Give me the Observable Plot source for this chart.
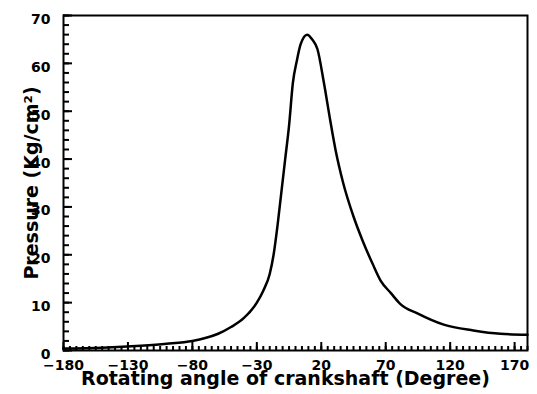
<!DOCTYPE html>
<html>
<head>
<meta charset="utf-8">
<script src="https://cdn.jsdelivr.net/npm/d3@7"></script>
<script src="https://cdn.jsdelivr.net/npm/@observablehq/plot@0.6"></script>
<style>
  html, body { margin: 0; padding: 0; background: #fff; }
</style>
</head>
<body>
<div id="chart"></div>
<script>
const angles = [-180, -150, -120, -100, -80, -70, -60, -50, -40, -30, -25, -20, -17, -14, -11, -8, -5, -2, 1, 4, 9, 13, 17, 22, 27, 31, 37, 45, 52, 60, 66, 74, 81, 95, 115, 138, 159, 180];
const pressures = [0.4, 0.6, 1.0, 1.4, 2.0, 2.6, 3.5, 4.9, 6.8, 10.0, 12.5, 16, 20, 26, 33, 40, 47, 56, 60.5, 64, 66, 65, 63, 56, 48, 42, 35, 28, 23, 18, 14.6, 12, 9.8, 7.7, 5.4, 4.2, 3.5, 3.3];
const xTickLabels = [-180, -130, -80, -30, 20, 70, 120, 170];
const yTickLabels = [0, 10, 20, 30, 40, 50, 60, 70];
const xMinorTicks = d3.range(-180, 181, 5);
const yMinorTicks = d3.range(0, 71, 2);
const xTitle = "Rotating angle of crankshaft (Degree)";
const yTitle = "Pressure (Kg/cm²)";

const data = angles.map((a, i) => ({angle: a, pressure: pressures[i]}));
const font = "'DejaVu Sans', 'Liberation Sans', sans-serif";

const W = 537, H = 394, ML = 63, MR = 10, MT = 15, MB = 44;
const frameW = W - ML - MR, frameH = H - MT - MB;

const chart = Plot.plot({
  width: W,
  height: H,
  marginLeft: ML,
  marginRight: MR,
  marginTop: MT,
  marginBottom: MB,
  style: {fontFamily: font, fontWeight: "bold", fontSize: "14px", color: "#000", background: "#fff"},
  x: {domain: [-180, 180]},
  y: {domain: [0, 70]},
  marks: [
    Plot.frame({stroke: "#000", strokeWidth: 2, fill: "none"}),
    // inward ticks on the bottom axis
    Plot.tickX(xMinorTicks, {x: d => d, stroke: "#000", strokeWidth: 2, insetTop: frameH - 4}),
    Plot.tickX(xTickLabels, {x: d => d, stroke: "#000", strokeWidth: 2, insetTop: frameH - 8}),
    Plot.axisX({ticks: xTickLabels, tickSize: 0, tickPadding: 10, label: null, fontSize: 14}),
    // inward ticks on the left axis
    Plot.tickY(yMinorTicks, {y: d => d, stroke: "#000", strokeWidth: 2, insetRight: frameW - 6}),
    Plot.tickY(yTickLabels, {y: d => d, stroke: "#000", strokeWidth: 2, insetRight: frameW - 9}),
    Plot.axisY({ticks: yTickLabels, tickSize: 0, tickPadding: 13, dy: 4, label: null, fontSize: 14}),
    Plot.line(data, {x: "angle", y: "pressure", stroke: "#000", strokeWidth: 2.5, curve: "monotone-x"}),
    Plot.text([xTitle], {frameAnchor: "bottom", dy: 34, dx: -10, fontSize: 19, fill: "#000"}),
    Plot.text([yTitle], {frameAnchor: "left", textAnchor: "middle", dx: -32, rotate: -90, fontSize: 19, fill: "#000"})
  ]
});
document.getElementById("chart").appendChild(chart);
</script>
</body>
</html>
